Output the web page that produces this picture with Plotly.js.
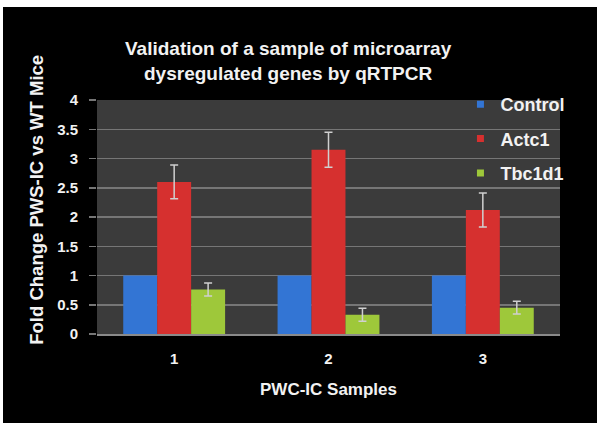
<!DOCTYPE html>
<html><head><meta charset="utf-8">
<script src="https://cdn.plot.ly/plotly-3.0.1.min.js"></script>
<style>
html,body{margin:0;padding:0;background:#fff;width:601px;height:431px;overflow:hidden;}
#chart{position:absolute;left:3px;top:7px;width:594px;height:416px;}
</style></head>
<body><div id="chart"></div>
<script>
var categories = ['1', '2', '3'];
var seriesNames = ['Control', 'Actc1', 'Tbc1d1'];
var controlValues = [1, 1, 1];
var actc1Values = [2.6, 3.15, 2.12];
var actc1Errors = [0.29, 0.3, 0.29];
var tbc1d1Values = [0.76, 0.33, 0.45];
var tbc1d1Errors = [0.11, 0.11, 0.11];
var yTickVals = [0, 0.5, 1, 1.5, 2, 2.5, 3, 3.5, 4];
var yTickText = ['0', '0.5', '1', '1.5', '2', '2.5', '3', '3.5', '4'];

var colors = ['#3375d4', '#d6302f', '#9ec83a'];
var errStyle = {type: 'data', visible: true, color: '#d0d0d0', thickness: 1.5, width: 4};

var bars = [
  {type: 'bar', name: seriesNames[0], x: categories, y: controlValues,
   marker: {color: colors[0]}, showlegend: false},
  {type: 'bar', name: seriesNames[1], x: categories, y: actc1Values,
   marker: {color: colors[1]}, showlegend: false,
   error_y: Object.assign({array: actc1Errors}, errStyle)},
  {type: 'bar', name: seriesNames[2], x: categories, y: tbc1d1Values,
   marker: {color: colors[2]}, showlegend: false,
   error_y: Object.assign({array: tbc1d1Errors}, errStyle)}
];
// legend entries with small square swatches
var legendEntries = seriesNames.map(function(n, i){
  return {type: 'scatter', mode: 'markers', name: '<b>' + n + '</b>', x: [null], y: [null],
    marker: {symbol: 'square', size: 7, color: colors[i]}, legendgroup: 'g' + i, hoverinfo: 'skip'};
});

var ff = 'Liberation Sans, Arial, sans-serif';
var fc = '#f2f2f2';

var layout = {
  width: 594, height: 416,
  paper_bgcolor: '#000', plot_bgcolor: '#3b3b3b',
  margin: {l: 94, r: 37, t: 93, b: 89},
  barmode: 'group', bargap: 0.34, bargroupgap: 0,
  font: {family: ff, color: fc},
  title: {text: '<b>Validation of a sample of microarray<br>dysregulated genes by qRTPCR</b>',
    font: {family: ff, size: 19, color: fc},
    x: 0.48, xanchor: 'center', y: 0.884, yanchor: 'top'},
  xaxis: {type: 'category', tickfont: {size: 15, color: fc, family: ff},
    tickvals: categories, ticktext: categories.map(function(c){return '<b>' + c + '</b>';}),
    showline: true, linecolor: '#8a8a8a', linewidth: 2, ticks: '', ticklabelstandoff: 10,
    title: {text: '<b>PWC-IC Samples</b>', font: {size: 17, color: fc, family: ff}, standoff: 17}},
  yaxis: {range: [0, 4], tickvals: yTickVals, ticktext: yTickText.map(function(t){return '<b>' + t + '</b>';}),
    tickfont: {size: 15, color: fc, family: ff}, ticklabelstandoff: 8,
    showgrid: true, gridcolor: '#767676', gridwidth: 1.5, zeroline: false,
    ticks: 'outside', ticklen: 7, tickcolor: '#767676', tickwidth: 1.5},
  annotations: [{text: '<b>Fold Change PWS-IC vs WT Mice</b>', textangle: -90,
    xref: 'paper', yref: 'paper', x: -0.13, y: 0.573, xanchor: 'center', yanchor: 'middle',
    showarrow: false, font: {size: 18.5, color: fc, family: ff}}],
  legend: {x: 0.785, xanchor: 'left', y: 1.06, yanchor: 'top', bgcolor: 'rgba(0,0,0,0)',
    font: {size: 18, color: fc, family: ff}, tracegroupgap: 8, itemwidth: 30},
  showlegend: true
};

Plotly.newPlot('chart', bars.concat(legendEntries), layout, {displayModeBar: false, staticPlot: true});
</script></body></html>
